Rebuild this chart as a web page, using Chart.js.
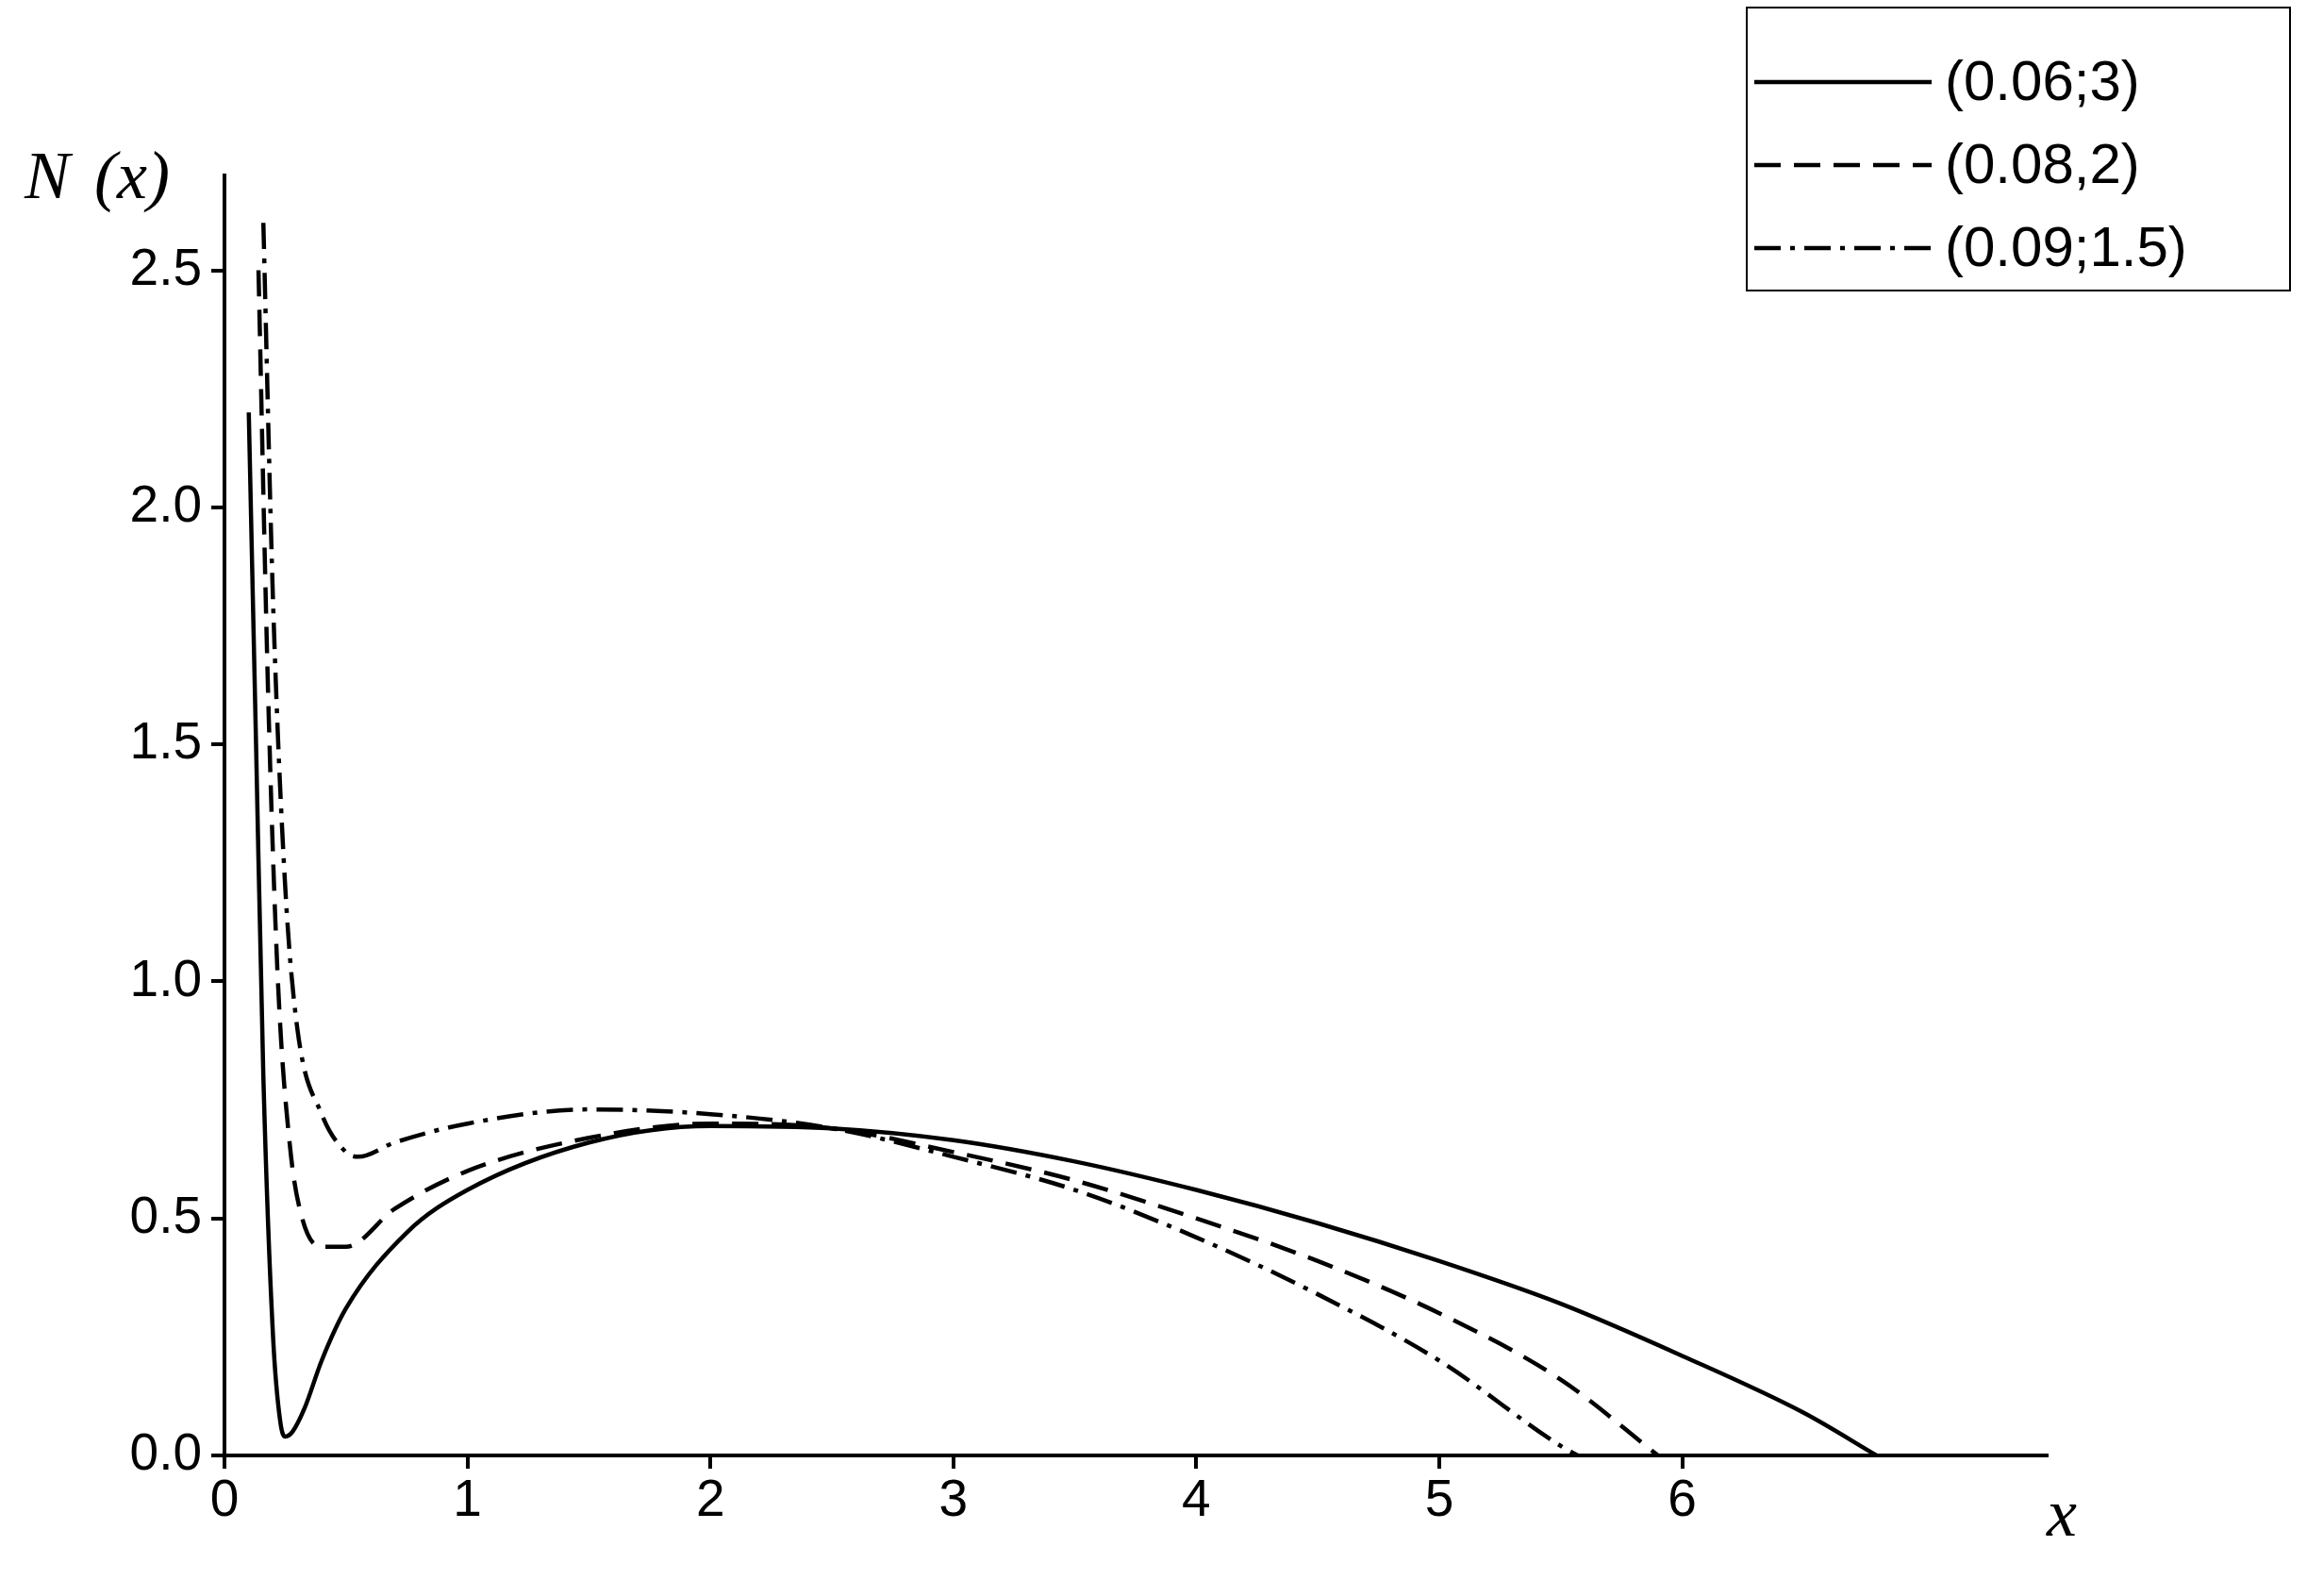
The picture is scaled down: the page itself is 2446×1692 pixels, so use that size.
<!DOCTYPE html>
<html>
<head>
<meta charset="utf-8">
<script src="https://cdn.jsdelivr.net/npm/chart.js@4"></script>
<style>body{margin:0;background:#fff}</style>
</head>
<body>
<canvas id="c" width="2446" height="1692"></canvas>
<script>
const seriesLabels = ["(0.06;3)", "(0.08,2)", "(0.09;1.5)"];
const solidX = [0.1, 0.13, 0.16, 0.2, 0.23, 0.25, 0.28, 0.33, 0.4, 0.5, 0.75, 1, 1.5, 2, 2.5, 3, 3.5, 4, 4.5, 5, 5.5, 6, 6.5, 6.8];
const solidY = [2.2, 1.5, 0.8, 0.25, 0.07, 0.04, 0.05, 0.1, 0.2, 0.31, 0.47, 0.56, 0.66, 0.695, 0.69, 0.665, 0.62, 0.56, 0.49, 0.41, 0.32, 0.21, 0.09, 0];
const dashX = [0.14, 0.18, 0.22, 0.27, 0.32, 0.4, 0.5, 0.7, 1, 1.5, 2, 2.5, 3, 3.5, 4, 4.5, 5, 5.5, 5.9];
const dashY = [2.5, 1.6, 1.0, 0.65, 0.5, 0.44, 0.44, 0.52, 0.6, 0.67, 0.70, 0.69, 0.64, 0.58, 0.5, 0.41, 0.3, 0.16, 0];
const dotX = [0.16, 0.2, 0.25, 0.3, 0.4, 0.5, 0.55, 0.7, 1, 1.5, 2, 2.5, 3, 3.5, 4, 4.5, 5, 5.5, 5.57];
const dotY = [2.6, 1.8, 1.2, 0.9, 0.72, 0.64, 0.63, 0.66, 0.70, 0.73, 0.72, 0.69, 0.63, 0.56, 0.46, 0.34, 0.2, 0.02, 0];
const dashes = [[], [28, 14], [28, 10, 5, 10]];

const pts = (xs, ys) => xs.map((x, i) => ({x: x, y: ys[i]}));

const extras = {
    id: "extras",
    afterDraw(chart) {
        const ctx = chart.ctx;
        ctx.save();
        ctx.fillStyle = "#000";
        ctx.font = "italic 72px 'Liberation Serif'";
        ctx.textBaseline = "alphabetic";
        ctx.fillText("N", 26, 210);
        ctx.fillText("(x)", 100, 210);
        ctx.fillText("x", 2170, 1628);
        // legend box
        ctx.lineWidth = 2;
        ctx.strokeStyle = "#000";
        ctx.strokeRect(1852, 8, 576, 300);
        ctx.font = "60px 'Liberation Sans'";
        ctx.textBaseline = "middle";
        seriesLabels.forEach((lab, i) => {
            const y = 87 + i * 88;
            ctx.setLineDash(dashes[i]);
            ctx.lineWidth = 4.5;
            ctx.beginPath();
            ctx.moveTo(1860, y);
            ctx.lineTo(2048, y);
            ctx.stroke();
            ctx.setLineDash([]);
            ctx.fillText(lab, 2062, y + 2);
        });
        ctx.restore();
    }
};

new Chart(document.getElementById("c"), {
    type: "scatter",
    data: {
        datasets: [
            {label: seriesLabels[0], data: pts(solidX, solidY)},
            {label: seriesLabels[1], data: pts(dashX, dashY)},
            {label: seriesLabels[2], data: pts(dotX, dotY)}
        ].map((d, i) => Object.assign(d, {
            showLine: true, borderColor: "#000", borderWidth: 4.5, borderDash: dashes[i],
            pointRadius: 0, cubicInterpolationMode: "monotone", fill: false
        }))
    },
    options: {
        responsive: false,
        animation: false,
        layout: {padding: {left: 0, top: 186, right: 276, bottom: 0}},
        plugins: {legend: {display: false}, tooltip: {enabled: false}},
        scales: {
            x: {
                type: "linear", min: 0, max: 7.5,
                afterFit: s => { s.height = 149; },
                afterBuildTicks: s => { s.ticks = s.ticks.filter(t => Number.isInteger(t.value)); },
                border: {color: "#000", width: 4},
                grid: {drawOnChartArea: false, color: "#000", lineWidth: 4, tickLength: 14},
                ticks: {stepSize: 1, color: "#000", font: {family: "Liberation Sans", size: 55}, padding: 2}
            },
            y: {
                min: 0, max: 2.7,
                afterFit: s => { s.width = 238; },
                afterBuildTicks: s => { s.ticks = s.ticks.filter(t => Math.abs(t.value * 2 - Math.round(t.value * 2)) < 1e-6); },
                border: {color: "#000", width: 4},
                grid: {drawOnChartArea: false, color: "#000", lineWidth: 4, tickLength: 14},
                ticks: {stepSize: 0.5, color: "#000", font: {family: "Liberation Sans", size: 55}, padding: 10,
                    callback: v => v.toFixed(1)}
            }
        }
    },
    plugins: [extras]
});
</script>
</body>
</html>
